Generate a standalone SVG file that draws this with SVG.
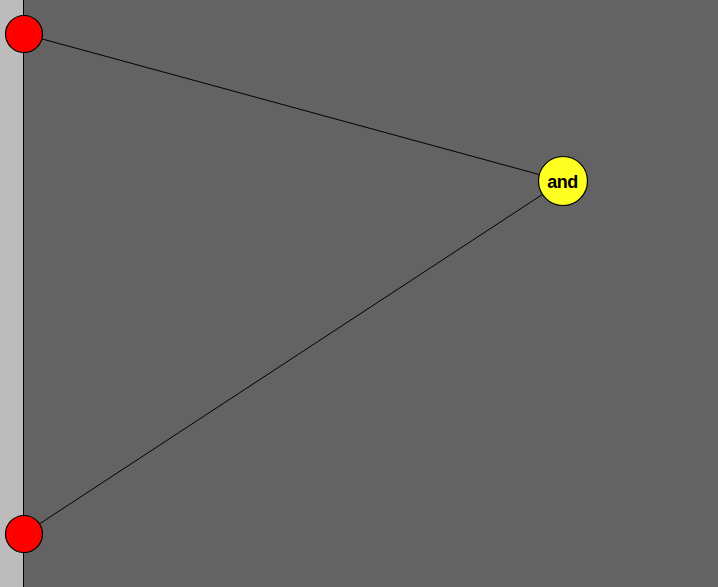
<svg xmlns="http://www.w3.org/2000/svg" width="718" height="587" viewBox="0 0 718 587">
<style>
.in{fill:#ff0000;stroke:#000;stroke-width:1.2}
.gate{fill:#ffff22;stroke:#000;stroke-width:1.2}
.edge{stroke:#000;stroke-width:1;fill:none}
.lbl{font-family:"Liberation Sans",Arial,sans-serif;font-weight:bold;font-size:18px;fill:#000;text-anchor:middle;letter-spacing:-0.5px}
</style>
<rect x="0" y="0" width="718" height="587" fill="#636363"/>
<rect x="0" y="0" width="23.5" height="587" fill="#bcbcbc"/>
<line x1="23.5" y1="0" x2="23.5" y2="587" stroke="#000" stroke-width="1"/>
<g id="connectors">
<line class="edge" x1="24" y1="34" x2="563" y2="181"/>
<line class="edge" x1="24" y1="534" x2="563" y2="181"/>
</g>
<g id="in1"><circle class="in" cx="24" cy="34" r="18.5"/></g>
<g id="in2"><circle class="in" cx="24" cy="534" r="18.5"/></g>
<g id="and"><circle class="gate" cx="563" cy="181" r="24.5"/><text class="lbl" x="562.5" y="187.5">and</text></g>
</svg>
